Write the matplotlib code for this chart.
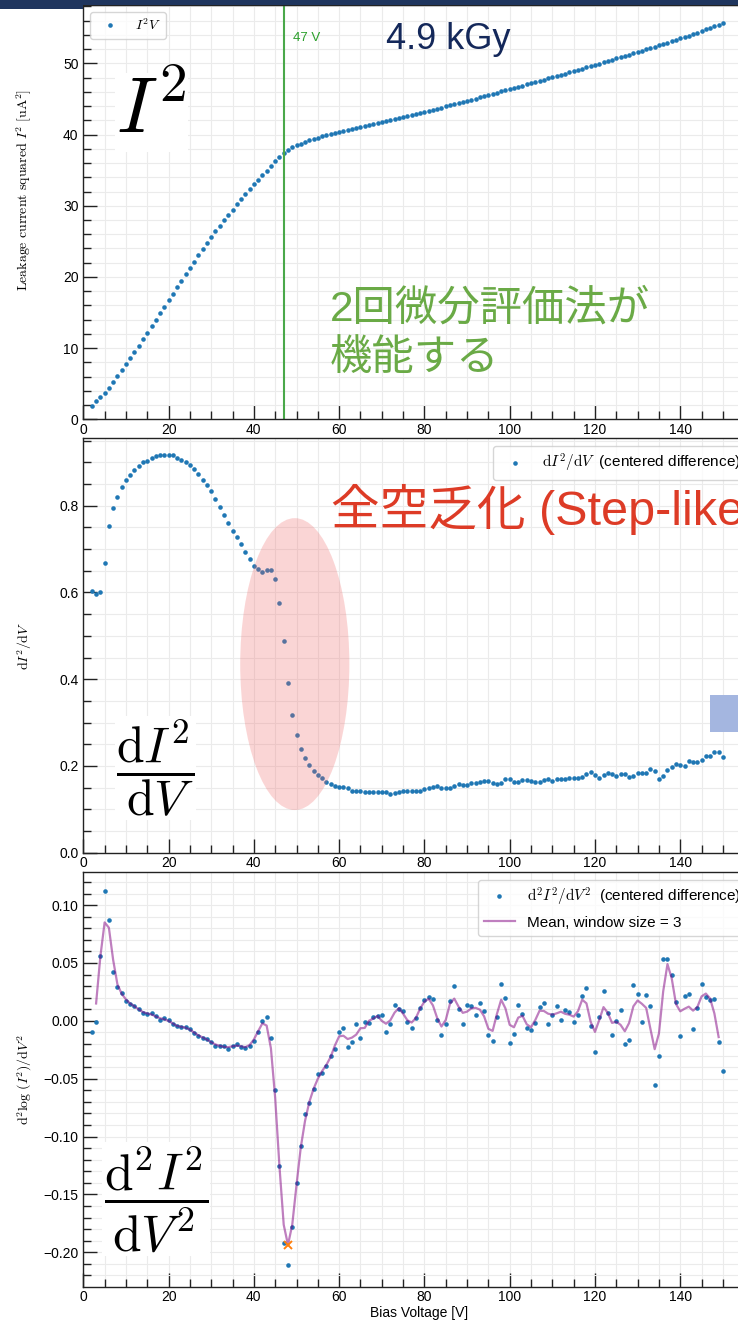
import numpy as np
import pandas as pd
import matplotlib
matplotlib.use("Agg")
import matplotlib.pyplot as plt
from matplotlib.patches import Ellipse, Rectangle
from matplotlib.ticker import MultipleLocator

plt.rcParams.update({
    "font.family": ["Liberation Sans", "Noto Sans CJK JP", "DejaVu Sans"],
    "mathtext.fontset": "cm",
    "axes.linewidth": 1.0,
    "axes.edgecolor": "#222222",
    "axes.unicode_minus": True,
})

# ---------------- data ----------------
voltage = np.arange(2, 151)  # bias voltage [V], 1 V steps

i2 = [
    1.91, 2.51, 3.11, 3.74, 4.45, 5.22, 6.03, 6.86, 7.71,
    8.58, 9.46, 10.35, 11.25, 12.15, 13.06, 13.97, 14.89, 15.81, 16.73,
    17.65, 18.56, 19.47, 20.37, 21.26, 22.15, 23.03, 23.90, 24.75, 25.59,
    26.41, 27.20, 27.97, 28.73, 29.47, 30.20, 30.92, 31.62, 32.31, 32.99,
    33.65, 34.30, 34.95, 35.60, 36.24, 36.85, 37.40, 37.86, 38.19, 38.49,
    38.74, 38.96, 39.17, 39.37, 39.56, 39.74, 39.91, 40.07, 40.23, 40.38,
    40.53, 40.68, 40.82, 40.96, 41.10, 41.24,
    41.38, 41.52, 41.66, 41.80, 41.94, 42.08, 42.22, 42.36, 42.50, 42.64,
    42.78, 42.92, 43.06, 43.20,
    43.35, 43.50, 43.65, 43.80, 43.95, 44.10, 44.26, 44.42, 44.58, 44.74,
    44.90, 45.06, 45.22, 45.39, 45.56, 45.72, 45.88, 46.05, 46.22, 46.39,
    46.55, 46.71, 46.88, 47.05, 47.21, 47.37, 47.54, 47.71, 47.88, 48.05,
    48.22, 48.39, 48.56, 48.73, 48.90, 49.07, 49.25, 49.43, 49.61, 49.79,
    49.97, 50.15, 50.33, 50.51, 50.69, 50.87, 51.05, 51.23, 51.41, 51.59,
    51.77, 51.96, 52.15, 52.34, 52.52, 52.71, 52.90, 53.10, 53.30, 53.50,
    53.70, 53.91, 54.12, 54.33, 54.54, 54.76, 54.98, 55.21, 55.44, 55.66,
]

di2_dv = [
    0.604, 0.597, 0.602, 0.669, 0.754, 0.795, 0.820, 0.843, 0.859,
    0.872, 0.8835, 0.892, 0.900, 0.904, 0.910, 0.914, 0.916, 0.916, 0.918,
    0.916, 0.911, 0.905, 0.900, 0.894, 0.885, 0.874, 0.860, 0.8475, 0.833,
    0.815, 0.797, 0.779, 0.761, 0.741, 0.727, 0.711, 0.693, 0.677, 0.662,
    0.653, 0.648, 0.652, 0.652, 0.631, 0.576, 0.488, 0.391, 0.318, 0.2715,
    0.239, 0.219, 0.203, 0.189, 0.179, 0.1715, 0.164, 0.158, 0.154, 0.152,
    0.1515, 0.149, 0.143, 0.143, 0.142, 0.139,
    0.1393, 0.1393, 0.1393, 0.1393, 0.1393, 0.1354, 0.1385, 0.1400, 0.1416,
    0.1431, 0.1416, 0.1416, 0.1423, 0.1462,
    0.1493, 0.1516, 0.1539, 0.1500, 0.1485, 0.1493, 0.1539, 0.1585, 0.1562,
    0.1562, 0.1608, 0.1616, 0.1623, 0.1662, 0.1654, 0.1608, 0.1585, 0.1616,
    0.1700, 0.1693, 0.1623, 0.1639, 0.1670, 0.1670, 0.1647, 0.1631, 0.1639,
    0.1670, 0.1693, 0.1662, 0.1708, 0.1708, 0.1700, 0.1731, 0.1731, 0.1723,
    0.1739, 0.1808, 0.1854, 0.1793, 0.1731, 0.1785, 0.1831, 0.1816, 0.1777,
    0.1808, 0.1808, 0.1739, 0.1762, 0.1847, 0.1839, 0.1839, 0.1923, 0.1885,
    0.1700, 0.1770, 0.1908, 0.1977, 0.2054, 0.2023, 0.2000, 0.2123, 0.2100,
    0.2085, 0.2146, 0.2223, 0.2223, 0.2316, 0.2316, 0.2208,
]

d2i2_dv2 = [
    -0.0094, -0.0014, 0.0557, 0.1124, 0.0870, 0.0420, 0.0289, 0.0238, 0.0172,
    0.0146, 0.0129, 0.0100, 0.0066, 0.0060, 0.0066, 0.0038, 0.0009, 0.0020, 0.0009,
    -0.0031, -0.0048, -0.0054, -0.0054, -0.0071, -0.0105, -0.0128, -0.0145, -0.0157, -0.0185,
    -0.0214, -0.0214, -0.0220, -0.0243, -0.0220, -0.0197, -0.0226, -0.0237, -0.0220, -0.0171,
    -0.0094, -0.0005, 0.0032, -0.0151, -0.0594, -0.1257, -0.1918, -0.2112, -0.1780, -0.1398,
    -0.1081, -0.0806, -0.0709, -0.0592, -0.0463, -0.0449, -0.0391, -0.0305, -0.0243, -0.0094,
    -0.0065, -0.0228, -0.0180, -0.0028, -0.0151, -0.0014,
    -0.0020, 0.0035, 0.0043, 0.0049, -0.0094, -0.0031, 0.0137, 0.0106, 0.0086,
    -0.0008, -0.0063, 0.0026, 0.0112, 0.0180,
    0.0206, 0.0186, 0.0006, -0.0123, -0.0031, 0.0175, 0.0300, 0.0100, -0.0031,
    0.0137, 0.0132, 0.0052, 0.0152, 0.0086, -0.0123, -0.0171, 0.0032, 0.0315,
    0.0200, -0.0194, -0.0111, 0.0137, 0.0057, -0.0065, -0.0083, -0.0020, 0.0123,
    0.0158, -0.0025, 0.0052, 0.0132, 0.0009, 0.0095, 0.0077, -0.0014, 0.0046,
    0.0215, 0.0286, -0.0048, -0.0269, 0.0029, 0.0260, 0.0066, -0.0120, 0.0000,
    0.0095, -0.0200, -0.0166, 0.0309, 0.0232, -0.0014, 0.0223, 0.0126, -0.0557,
    -0.0305, 0.0535, 0.0535, 0.0400, 0.0163, -0.0129, 0.0212, 0.0229, -0.0074,
    0.0109, 0.0320, 0.0203, 0.0183, 0.0192, -0.0183, -0.0431,
]

depletion_voltage = 47
window = 3

# ---------------- layout ----------------
W, H = 738, 1325
fig = plt.figure(figsize=(W / 100, H / 100), dpi=100)

X_MAX = 157.4
PX_PER_V = 4.264
LEFT_PX = 83.3


def axes_box(top_px, bottom_px):
    return [LEFT_PX / W, 1 - bottom_px / H, X_MAX * PX_PER_V / W, (bottom_px - top_px) / H]


def fx(px):
    return px / W


def fy(py):
    return 1 - py / H


ax1 = fig.add_axes(axes_box(5.0, 419.3))
ax2 = fig.add_axes(axes_box(438.3, 852.7))
ax3 = fig.add_axes(axes_box(872.0, 1286.7))

grid_kw = dict(color="#ebebeb", linewidth=0.8)
for ax in (ax1, ax2, ax3):
    ax.set_xlim(0, X_MAX)
    ax.xaxis.set_major_locator(MultipleLocator(20))
    ax.xaxis.set_minor_locator(MultipleLocator(5))
    ax.tick_params(which="both", direction="in", top=False, right=False,
                   labelsize=10, width=1.0, color="#222222")
    ax.tick_params(which="major", length=10)
    ax.tick_params(which="minor", length=5.5)
    ax.tick_params(axis="x", pad=2.5)
    ax.grid(True, which="both", **grid_kw)
    ax.set_axisbelow(True)

blue = "#1f77b4"
mk = dict(marker="o", linestyle="none", markersize=3.3, markeredgewidth=0, color=blue)

# --- panel 1: I^2 vs V ---
ax1.plot(voltage, i2, label=r"$I^2V$", **mk)
ax1.axvline(depletion_voltage, color="#4aa84a", linewidth=1.5, zorder=2)
ax1.text(depletion_voltage + 2.2, 53.5, f"{depletion_voltage} V", color="#2ca02c",
         fontsize=9.5, va="center", ha="left")
ax1.set_ylim(0, 58.2)
ax1.yaxis.set_major_locator(MultipleLocator(10))
ax1.yaxis.set_minor_locator(MultipleLocator(2))
ax1.set_ylabel(r"$\mathrm{Leakage\ current\ squared}\ I^2\ [\mathrm{uA}^2]$", fontsize=10)
ax1.yaxis.set_label_coords(-0.073, 0.553)
ax1.legend(loc="upper left", fontsize=10, handletextpad=0.8, borderaxespad=0.5)

# --- panel 2: first derivative ---
ax2.plot(voltage, di2_dv, label=r"$\mathrm{d}I^2/\mathrm{d}V$  (centered difference)", **mk)
ax2.add_patch(Ellipse((49.6, 0.4349), 25.6, 0.673, facecolor=(0.94, 0.40, 0.40),
                      alpha=0.27, linewidth=0, zorder=4))
ax2.set_ylim(0, 0.9555)
ax2.yaxis.set_major_locator(MultipleLocator(0.2))
ax2.yaxis.set_minor_locator(MultipleLocator(0.05))
ax2.set_ylabel(r"$\mathrm{d}I^2/\mathrm{d}V$", fontsize=10)
ax2.yaxis.set_label_coords(-0.073, 0.5)
ax2.legend(loc="upper right", fontsize=11, borderaxespad=0.5)

# --- panel 3: second derivative with rolling mean ---
rolling = pd.Series(d2i2_dv2, index=voltage).rolling(window, center=True).mean()
ax3.plot(voltage, d2i2_dv2, label=r"$\mathrm{d}^2I^2/\mathrm{d}V^2$  (centered difference)", **mk)
ax3.plot(rolling.index, rolling.values, color="purple", alpha=0.5, linewidth=1.6,
         label=f"Mean, window size = {window}", zorder=3)
v_min = rolling.idxmin()
ax3.plot([v_min], [rolling[v_min]], marker="x", linestyle="none", color="#ff7f0e",
         markersize=5.5, markeredgewidth=1.4, zorder=4)
ax3.set_ylim(-0.2298, 0.1286)
ax3.yaxis.set_major_locator(MultipleLocator(0.05))
ax3.yaxis.set_minor_locator(MultipleLocator(0.01))
ax3.set_ylabel(r"$\mathrm{d}^2\log\,(I^2)/\mathrm{d}V^2$", fontsize=10)
ax3.yaxis.set_label_coords(-0.073, 0.5)
ax3.set_xlabel("Bias Voltage [V]", fontsize=10, labelpad=1)
ax3.legend(loc="upper right", fontsize=11, borderaxespad=0.5)

# ---------------- annotations ----------------
white_box = dict(facecolor="white", edgecolor="none", pad=1.0)
fig.text(fx(151.5), fy(112.5), r"$I^2$", fontsize=57, ha="center", va="center", bbox=white_box)
fig.text(fx(155.5), fy(768), r"$\dfrac{\mathrm{d}I^2}{\mathrm{d}V}$", fontsize=36,
         ha="center", va="center", bbox=white_box)
fig.text(fx(156), fy(1199), r"$\dfrac{\mathrm{d}^2I^2}{\mathrm{d}V^2}$", fontsize=37,
         ha="center", va="center", bbox=white_box)

fig.text(fx(386), fy(49), "4.9 kGy", fontsize=26, color="#14285a", ha="left", va="baseline")

green_note = "#6aaa46"
fig.text(fx(330), fy(310), "2回微分評価法が", fontsize=30.5, color=green_note,
         ha="left", va="center")
fig.text(fx(330), fy(359), "機能する", fontsize=30.5, color=green_note,
         ha="left", va="center")

fig.text(fx(331), fy(509), "全空乏化 (Step-like)", fontsize=35, color="#dd3b26",
         ha="left", va="center")

# slide decorations
fig.patches.append(Rectangle((fx(710), fy(731.7)), fx(40), 36.7 / H, transform=fig.transFigure,
                             facecolor="#a4b6e0", edgecolor="none", zorder=10))
fig.patches.append(Rectangle((0, fy(4.5)), 1, 4.5 / H, transform=fig.transFigure,
                             facecolor="#1f355e", edgecolor="none", zorder=10))
fig.patches.append(Rectangle((0, fy(9)), fx(83), 9 / H, transform=fig.transFigure,
                             facecolor="#1f355e", edgecolor="none", zorder=10))

fig.savefig("out.png", dpi=100)
